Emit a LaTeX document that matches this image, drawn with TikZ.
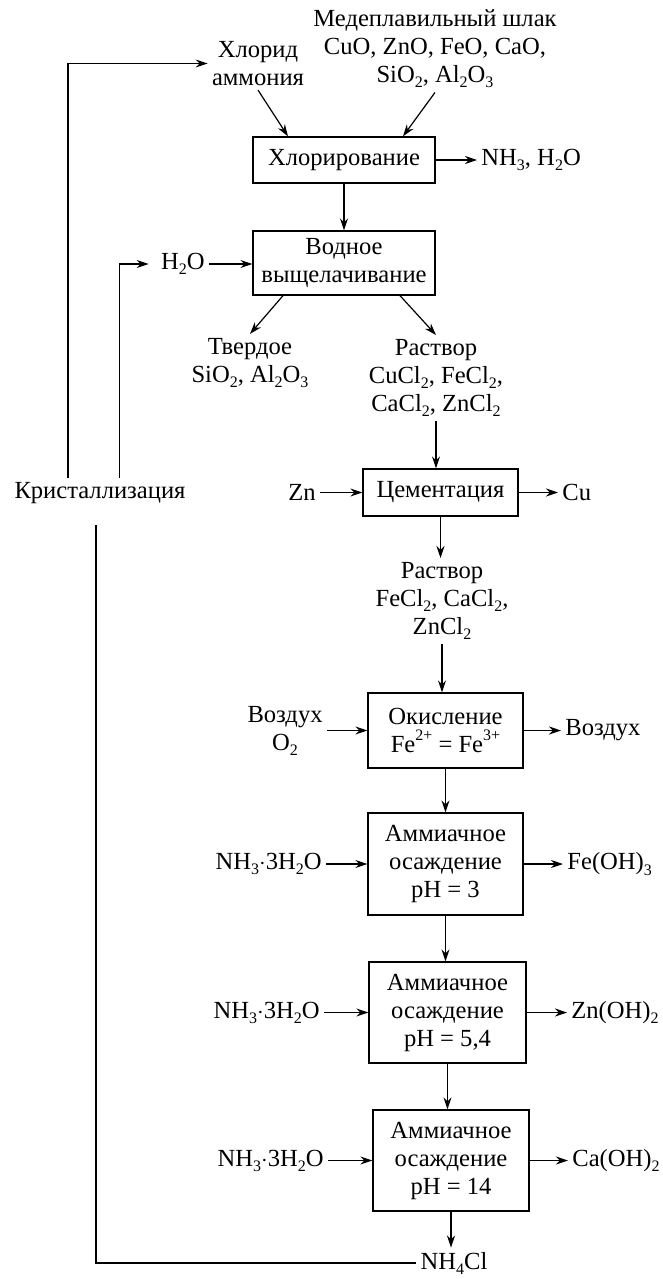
\documentclass[tikz,border=0pt]{standalone}
\usepackage{fontspec}
\setmainfont{Liberation Serif}
\usetikzlibrary{arrows.meta}
\usetikzlibrary{calc}
\newcommand{\chsub}[1]{\raisebox{-0.45ex}{\fontsize{8}{8}\selectfont #1}}
\newcommand{\chsup}[1]{\raisebox{1.1ex}{\fontsize{8}{8}\selectfont #1}}
\tikzset{
    proc/.style={draw,line width=0.65pt,align=center,inner sep=0pt},
    lbl/.style={align=center,inner sep=2pt},
    flow/.style={-{Stealth[length=6pt,width=4pt]},line width=0.6pt},
    back/.style={line width=0.6pt},
}
\begin{document}
\begin{tikzpicture}[x=0.5pt,y=-0.5pt,font=\fontsize{12.3}{14}\selectfont]
\useasboundingbox (0,0) rectangle (663,1279);
% inputs
\node[lbl] (slag) at (435,49) {Медеплавильный шлак\\CuO, ZnO, FeO, CaO,\\SiO\chsub{2}, Al\chsub{2}O\chsub{3}};
\node[lbl] (nhcl) at (258,63.5) {Хлорид\\аммония};
% process boxes
\node[proc,minimum width=91pt,minimum height=23pt] (chl) at (344,160) {Хлорирование};
\node[proc,minimum width=91pt,minimum height=32pt] (wash) at (344,263) {Водное\\выщелачивание};
\node[proc,minimum width=77.5pt,minimum height=23.5pt] (cem) at (440.5,492.5) {Цементация};
\node[proc,minimum width=77.5pt,minimum height=37.5pt] (ox) at (445.5,730.5) {Окисление\\Fe\chsup{2+} = Fe\chsup{3+}};
\node[proc,minimum width=77.5pt,minimum height=51pt] (am1) at (445.5,864) {Аммиачное\\осаждение\\pH = 3};
\node[proc,minimum width=78.5pt,minimum height=50.5pt] (am2) at (447.5,1012.5) {Аммиачное\\осаждение\\pH = 5,4};
\node[proc,minimum width=78pt,minimum height=50.5pt] (am3) at (451,1160.5) {Аммиачное\\осаждение\\pH = 14};
% side streams
\node[lbl,anchor=west] (gas) at (477,160) {NH\chsub{3}, H\chsub{2}O};
\node[lbl,anchor=east] (h2o) at (209,264) {H\chsub{2}O};
\node[lbl] (solid) at (250,363) {Твердое\\SiO\chsub{2}, Al\chsub{2}O\chsub{3}};
\node[lbl] (sol1) at (436,378) {Раствор\\CuCl\chsub{2}, FeCl\chsub{2},\\CaCl\chsub{2}, ZnCl\chsub{2}};
\node[lbl,anchor=east] (zn) at (320,492.5) {Zn};
\node[lbl,anchor=west] (cu) at (558,492.5) {Cu};
\node[lbl] (cryst) at (100,493) {Кристаллизация};
\node[lbl] (sol2) at (442,601) {Раствор\\FeCl\chsub{2}, CaCl\chsub{2},\\ZnCl\chsub{2}};
\node[lbl,anchor=east] (airin) at (327,730.5) {Воздух\\O\chsub{2}};
\node[lbl,anchor=west] (airout) at (561,730.5) {Воздух};
\node[lbl,anchor=east] (rg1) at (326,864) {NH\chsub{3}$\cdot$3H\chsub{2}O};
\node[lbl,anchor=west] (fe) at (563,864) {Fe(OH)\chsub{3}};
\node[lbl,anchor=east] (rg2) at (324,1012.5) {NH\chsub{3}$\cdot$3H\chsub{2}O};
\node[lbl,anchor=west] (zno) at (567,1012.5) {Zn(OH)\chsub{2}};
\node[lbl,anchor=east] (rg3) at (328,1160.5) {NH\chsub{3}$\cdot$3H\chsub{2}O};
\node[lbl,anchor=west] (cao) at (568,1160.5) {Ca(OH)\chsub{2}};
\node[lbl] (nh4) at (454,1263) {NH\chsub{4}Cl};
% main flow
\draw[flow] (nhcl.south) -- ($(chl.north)+(-56,0)$);
\draw[flow] (slag.south) -- ($(chl.north)+(59,0)$);
\draw[flow] (chl.east) -- (chl.east -| gas.west);
\draw[flow] (chl) -- (wash);
\draw[flow] (h2o.east) -- (h2o.east -| wash.west);
\draw[flow] ($(wash.south)+(-61,0)$) -- (solid.north);
\draw[flow] ($(wash.south)+(56,0)$) -- (sol1.north);
\draw[flow] (sol1.south) -- (sol1.south |- cem.north);
\draw[flow] (zn.east) -- (cem.west);
\draw[flow] (cem.east) -- (cu.west);
\draw[flow] (cem.south) -- (cem.south |- sol2.north);
\draw[flow] (sol2.south) -- (sol2.south |- ox.north);
\draw[flow] (airin.east) -- (ox.west);
\draw[flow] (ox.east) -- (airout.west);
\draw[flow] (ox.south) -- (ox.south |- am1.north);
\draw[flow] (rg1.east) -- (am1.west);
\draw[flow] (am1.east) -- (fe.west);
\draw[flow] (am1.south) -- (am1.south |- am2.north);
\draw[flow] (rg2.east) -- (am2.west);
\draw[flow] (am2.east) -- (zno.west);
\draw[flow] (am2.south) -- (am2.south |- am3.north);
\draw[flow] (rg3.east) -- (am3.west);
\draw[flow] (am3.east) -- (cao.west);
\draw[flow] (am3.south) -- (am3.south |- nh4.north);
% recycle
\draw[back] (nh4.west) -| ($(cryst.south)+(-4,17)$);
\draw[flow] ($(cryst.north)+(-32,0)$) |- (nhcl.west);
\draw[flow] ($(cryst.north)+(19.5,0)$) |- ($(h2o.west)+(-8,0)$);
\end{tikzpicture}
\end{document}
